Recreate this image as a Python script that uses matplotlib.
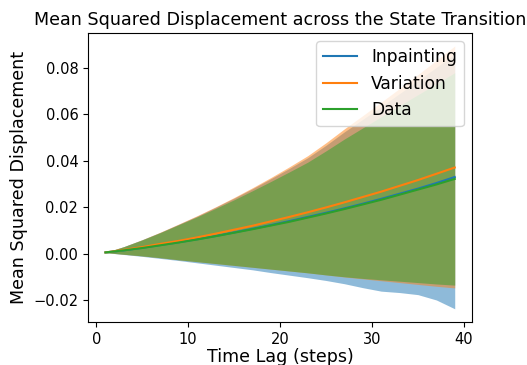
import numpy as np
import matplotlib
matplotlib.use("Agg")
import matplotlib.pyplot as plt
from matplotlib.ticker import MultipleLocator

# time lags (every other step)
lags = [1, 3, 5, 7, 9, 11, 13, 15, 17, 19, 21, 23, 25, 27, 29, 31, 33, 35, 37, 39]

# Inpainting
inp_mean = [0.0005, 0.0014, 0.0025, 0.0037, 0.0049, 0.0062, 0.0076, 0.0091, 0.0107, 0.0123,
            0.0140, 0.0158, 0.0176, 0.0195, 0.0215, 0.0236, 0.0258, 0.0280, 0.0304, 0.0330]
inp_upper = [0.0005, 0.0030, 0.0060, 0.0092, 0.0127, 0.0162, 0.0200, 0.0239, 0.0280, 0.0323,
             0.0367, 0.0413, 0.0467, 0.0525, 0.0579, 0.0634, 0.0690, 0.0746, 0.0803, 0.0860]
inp_lower = [0.0004, -0.0004, -0.0012, -0.0021, -0.0030, -0.0040, -0.0050, -0.0060, -0.0070, -0.0082,
             -0.0093, -0.0104, -0.0116, -0.0130, -0.0147, -0.0162, -0.0168, -0.0177, -0.0200, -0.0238]

# Variation
var_mean = [0.0005, 0.0016, 0.0028, 0.0042, 0.0055, 0.0070, 0.0086, 0.0103, 0.0120, 0.0139,
            0.0158, 0.0178, 0.0199, 0.0221, 0.0244, 0.0267, 0.0292, 0.0317, 0.0344, 0.0371]
var_upper = [0.0005, 0.0030, 0.0060, 0.0093, 0.0128, 0.0164, 0.0202, 0.0242, 0.0284, 0.0328,
             0.0374, 0.0422, 0.0478, 0.0538, 0.0595, 0.0653, 0.0712, 0.0772, 0.0833, 0.0895]
var_lower = [0.0004, -0.0003, -0.0010, -0.0018, -0.0027, -0.0035, -0.0043, -0.0051, -0.0059, -0.0067,
             -0.0075, -0.0083, -0.0092, -0.0101, -0.0109, -0.0117, -0.0125, -0.0133, -0.0141, -0.0148]

# Data
dat_mean = [0.0005, 0.0014, 0.0024, 0.0036, 0.0048, 0.0061, 0.0075, 0.0090, 0.0105, 0.0121,
            0.0137, 0.0155, 0.0173, 0.0192, 0.0212, 0.0232, 0.0254, 0.0276, 0.0298, 0.0322]
dat_upper = [0.0005, 0.0030, 0.0059, 0.0091, 0.0125, 0.0159, 0.0195, 0.0232, 0.0271, 0.0311,
             0.0352, 0.0394, 0.0443, 0.0494, 0.0542, 0.0590, 0.0638, 0.0685, 0.0732, 0.0780]
dat_lower = [0.0004, -0.0003, -0.0010, -0.0018, -0.0027, -0.0035, -0.0043, -0.0051, -0.0059, -0.0067,
             -0.0075, -0.0083, -0.0092, -0.0100, -0.0107, -0.0113, -0.0119, -0.0125, -0.0131, -0.0136]

fig = plt.figure(figsize=(5.27, 3.65), dpi=100)
ax = fig.add_axes([0.167, 0.118, 0.729, 0.792])

series = [("Inpainting", inp_mean, inp_lower, inp_upper, "C0"),
          ("Variation", var_mean, var_lower, var_upper, "C1"),
          ("Data", dat_mean, dat_lower, dat_upper, "C2")]

for name, m, lo, hi, c in series:
    ax.plot(lags, m, color=c, label=name)
    ax.fill_between(lags, lo, hi, color=c, alpha=0.5, linewidth=0)

ax.xaxis.set_major_locator(MultipleLocator(10))
ax.set_title("Mean Squared Displacement across the State Transition", fontsize=12.6)
ax.set_xlabel("Time Lag (steps)", fontsize=12.6, labelpad=1)
ax.set_ylabel("Mean Squared Displacement", fontsize=12.6)
ax.tick_params(labelsize=10.5)
ax.legend(fontsize=12.3, loc="upper right")

fig.savefig("out.png", dpi=100)
